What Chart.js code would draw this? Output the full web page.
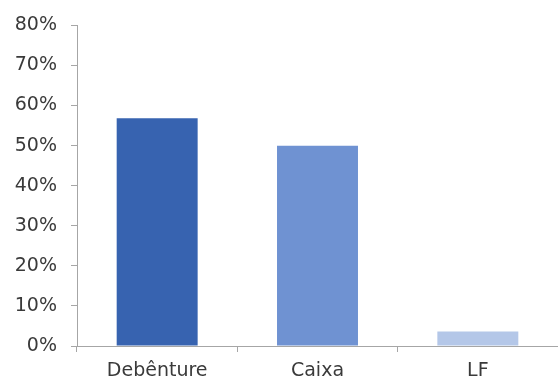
<!DOCTYPE html>
<html lang="pt">
<head>
  <meta charset="UTF-8">
  <title>Debênture, Caixa, LF</title>
  <script src="https://cdn.jsdelivr.net/npm/chart.js"></script>
  <style>
    html, body {
      margin: 0;
      padding: 0;
      background-color: #FFFFFF;
    }
    #caixa {
      width: 558px;
      height: 381px;
    }
  </style>
</head>
<body>

<div id="caixa">
  <canvas id="grafico" width="558" height="381"></canvas>
</div>

<script>
  const categorias = ['Debênture', 'Caixa', 'LF'];
  const valores = [56.8, 50.0, 3.6];
  const cores = ['#3763B0', '#6F92D2', '#B4C7E8'];
  const ticksY = [0, 10, 20, 30, 40, 50, 60, 70, 80];

  const cinza = '#A6A6A6';
  const fonte = { family: '"DejaVu Sans", sans-serif', size: 19 };

  const ctx = document.getElementById('grafico').getContext('2d');
  const chart = new Chart(ctx, {
    type: 'bar',
    data: {
      labels: categorias,
      datasets: [{
        data: valores,
        backgroundColor: cores,
        borderWidth: 0,
        categoryPercentage: 1,
        barPercentage: 0.505
      }]
    },
    options: {
      responsive: false,
      animation: false,
      layout: {
        padding: { top: 23, right: 0, left: 0, bottom: 0 }
      },
      scales: {
        y: {
          min: 0,
          max: 80,
          afterFit: s => { s.width = 77; },
          afterBuildTicks: s => { s.ticks = ticksY.map(v => ({ value: v })); },
          border: { color: cinza, width: 1 },
          grid: {
            drawOnChartArea: false,
            color: cinza,
            tickLength: 6
          },
          ticks: {
            padding: 14,
            color: '#3A3A3A',
            font: fonte,
            callback: v => v + '%'
          }
        },
        x: {
          afterFit: s => { s.height = 35; },
          border: { color: cinza, width: 1 },
          grid: {
            drawOnChartArea: false,
            color: cinza,
            tickLength: 6
          },
          ticks: {
            padding: 8,
            color: '#3A3A3A',
            font: fonte
          }
        }
      },
      plugins: {
        legend: { display: false },
        tooltip: { enabled: false }
      }
    }
  });
</script>

</body>
</html>
